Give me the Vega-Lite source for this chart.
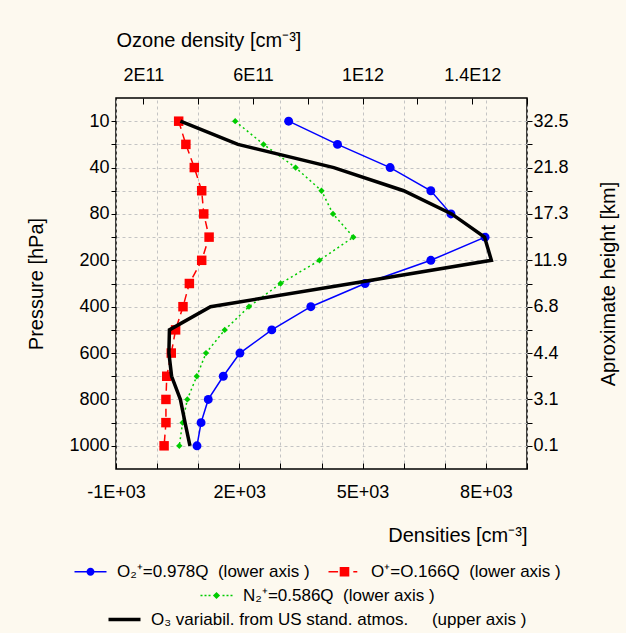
{
  "$schema": "https://vega.github.io/schema/vega-lite/v6.json",
  "width": 411,
  "height": 371,
  "autosize": {"type": "none"},
  "padding": {"left": 116, "top": 98, "right": 99, "bottom": 164},
  "background": "#fdf9ef",
  "data": {
    "values": [
      {"p": 10, "o2": 3200, "op": 525, "n2": 1900, "o3": 335000000000},
      {"p": 20, "o2": 4390, "op": 700, "n2": 2590, "o3": 545000000000},
      {"p": 40, "o2": 5670, "op": 905, "n2": 3370, "o3": 895000000000},
      {"p": 60, "o2": 6660, "op": 1085, "n2": 4000, "o3": 1150000000000},
      {"p": 80, "o2": 7150, "op": 1135, "n2": 4280, "o3": 1325000000000},
      {"p": 100, "o2": 7980, "op": 1265, "n2": 4775, "o3": 1445000000000},
      {"p": 200, "o2": 6660, "op": 1085, "n2": 3950, "o3": 1470000000000},
      {"p": 300, "o2": 5060, "op": 785, "n2": 3005, "o3": 960000000000},
      {"p": 400, "o2": 3740, "op": 630, "n2": 2235, "o3": 445000000000},
      {"p": 500, "o2": 2790, "op": 450, "n2": 1645, "o3": 295000000000},
      {"p": 600, "o2": 2015, "op": 345, "n2": 1190, "o3": 293000000000},
      {"p": 700, "o2": 1610, "op": 235, "n2": 965, "o3": 303000000000},
      {"p": 800, "o2": 1245, "op": 215, "n2": 735, "o3": 335000000000},
      {"p": 900, "o2": 1070, "op": 215, "n2": 620, "o3": 352000000000},
      {"p": 1000, "o2": 970, "op": 170, "n2": 540, "o3": 370000000000}
    ]
  },
  "config": {
    "view": {"fill": "white", "stroke": "black", "strokeWidth": 1.5},
    "font": "Liberation Sans",
    "axis": {
      "labelFont": "Liberation Sans", "titleFont": "Liberation Sans",
      "labelFontSize": 18, "titleFontSize": 20, "titleFontWeight": "normal",
      "labelColor": "black", "titleColor": "black", "tickColor": "black",
      "domain": false, "gridColor": "#c4c4c4", "gridDash": [3, 3], "gridWidth": 1,
      "labelOverlap": false, "labelBound": false, "labelFlush": false
    },
    "legend": {
      "orient": "bottom",
      "labelFont": "Liberation Sans", "labelFontSize": 17, "labelColor": "black", "labelLimit": 700,
      "padding": 0, "offset": 18, "symbolOpacity": 1,
      "layout": {"bottom": {"anchor": "middle", "direction": "vertical", "center": true, "margin": 7}}
    }
  },
  "layer": [
    {
      "mark": {"type": "line", "color": "#0000ff", "strokeWidth": 1.5, "point": {"filled": true, "size": 80, "color": "#0000ff", "opacity": 1}},
      "encoding": {
        "x": {"field": "o2", "type": "quantitative", "scale": {"domain": [-1000, 9000], "nice": false, "zero": false},
          "axis": {"orient": "bottom", "title": "Densities [cm⁻³]", "titleAnchor": "end", "values": [-1000, 0, 1000, 2000, 3000, 4000, 5000, 6000, 7000, 8000, 9000],
            "labelExpr": "datum.value == -1000 ? '-1E+03' : datum.value == 2000 ? '2E+03' : datum.value == 5000 ? '5E+03' : datum.value == 8000 ? '8E+03' : ''",
            "tickSize": -6, "labelPadding": 20, "grid": true, "titlePadding": 24}},
        "y": {"field": "p", "type": "ordinal", "scale": {"type": "point", "domain": [10, 20, 40, 60, 80, 100, 200, 300, 400, 500, 600, 700, 800, 900, 1000], "padding": 1},
          "axis": {"orient": "left", "title": "Pressure [hPa]", "labelExpr": "(datum.value == 20 || datum.value == 60 || datum.value == 100 || datum.value == 300 || datum.value == 500 || datum.value == 700 || datum.value == 900) ? '' : datum.label",
            "tickSize": 5, "labelPadding": 2, "grid": true, "titlePadding": 22}},
        "order": {"field": "p", "type": "quantitative"}
      }
    },
    {
      "mark": {"type": "line", "color": "#ff0000", "strokeWidth": 1.5, "strokeDash": [8, 5], "point": {"filled": true, "size": 90, "shape": "square", "color": "#ff0000", "opacity": 1}},
      "encoding": {
        "x": {"field": "op", "type": "quantitative", "scale": {"domain": [-1000, 9000], "nice": false, "zero": false}, "axis": null},
        "y": {"field": "p", "type": "ordinal", "scale": {"type": "point", "domain": [10, 20, 40, 60, 80, 100, 200, 300, 400, 500, 600, 700, 800, 900, 1000], "padding": 1}, "axis": null},
        "order": {"field": "p", "type": "quantitative"}
      }
    },
    {
      "mark": {"type": "line", "color": "#00cc00", "strokeWidth": 1.5, "strokeDash": [2, 3], "point": {"filled": true, "size": 40, "shape": "diamond", "color": "#00cc00", "opacity": 1}},
      "encoding": {
        "x": {"field": "n2", "type": "quantitative", "scale": {"domain": [-1000, 9000], "nice": false, "zero": false}, "axis": null},
        "y": {"field": "p", "type": "ordinal", "scale": {"type": "point", "domain": [10, 20, 40, 60, 80, 100, 200, 300, 400, 500, 600, 700, 800, 900, 1000], "padding": 1}, "axis": null},
        "order": {"field": "p", "type": "quantitative"}
      }
    },
    {
      "data": {"values": []},
      "mark": {"type": "point", "filled": true, "size": 64, "strokeWidth": 0, "opacity": 1},
      "encoding": {
        "color": {"field": "s", "type": "nominal",
          "scale": {"domain": ["O₂⁺=0.978Q\u00a0 (lower axis )", "O⁺=O.166Q\u00a0 (lower axis )"], "range": ["#0000ff", "#ff0000"]},
          "legend": {"title": null, "direction": "horizontal", "columnPadding": 18, "labelOffset": 18, "symbolSize": 64, "symbolStrokeWidth": 0}},
        "shape": {"field": "s", "type": "nominal",
          "scale": {"domain": ["O₂⁺=0.978Q\u00a0 (lower axis )", "O⁺=O.166Q\u00a0 (lower axis )"],
            "range": ["M-4,-0.19H4V0.19H-4Z M-1,0A1,1,0,1,1,1,0A1,1,0,1,1,-1,0Z", "M-4,-0.19H-1.6V0.19H-4Z M-1.2,-1.2H1.2V1.2H-1.2Z M2.2,-0.19H3.2V0.19H2.2Z"]},
          "legend": {"title": null, "direction": "horizontal", "columnPadding": 18, "labelOffset": 18, "symbolSize": 64, "symbolStrokeWidth": 0}}
      }
    },
    {
      "data": {"values": []},
      "mark": {"type": "point", "filled": true, "size": 64, "strokeWidth": 0, "color": "#00cc00", "opacity": 1,
        "shape": "M-4,-0.19H-3.5V0.19H-4Z M-3,-0.19H-2.5V0.19H-3Z M-2,-0.19H-1.5V0.19H-2Z M0,-0.9L0.9,0L0,0.9L-0.9,0Z M1.5,-0.19H2V0.19H1.5Z M2.5,-0.19H3V0.19H2.5Z M3.5,-0.19H4V0.19H3.5Z"},
      "encoding": {
        "strokeDash": {"field": "s", "type": "nominal", "scale": {"domain": ["N₂⁺=0.586Q\u00a0 (lower axis )"], "range": [[1, 0]]},
          "legend": {"title": null, "labelOffset": 18, "symbolSize": 64, "symbolStrokeWidth": 0, "symbolFillColor": "#00cc00",
            "symbolType": "M-4,-0.19H-3.5V0.19H-4Z M-3,-0.19H-2.5V0.19H-3Z M-2,-0.19H-1.5V0.19H-2Z M0,-0.9L0.9,0L0,0.9L-0.9,0Z M1.5,-0.19H2V0.19H1.5Z M2.5,-0.19H3V0.19H2.5Z M3.5,-0.19H4V0.19H3.5Z"}}
      }
    },
    {
      "data": {"values": []},
      "mark": {"type": "point", "filled": true, "strokeWidth": 0, "color": "black", "opacity": 1, "shape": "M-4,-0.44H4V0.44H-4Z"},
      "encoding": {
        "size": {"field": "s", "type": "nominal", "scale": {"domain": ["O₃ variabil. from US stand. atmos.\u00a0\u00a0\u00a0\u00a0 (upper axis )"], "range": [64, 64]},
          "legend": {"title": null, "labelOffset": 18, "symbolStrokeWidth": 0, "symbolFillColor": "black", "symbolOpacity": 1, "symbolType": "M-4,-0.44H4V0.44H-4Z"}}
      }
    },
    {
      "mark": {"type": "line", "color": "black", "strokeWidth": 3.5},
      "encoding": {
        "x": {"field": "o3", "type": "quantitative", "scale": {"domain": [100000000000, 1600000000000], "nice": false, "zero": false},
          "axis": {"orient": "top", "title": "Ozone density [cm⁻³]", "titleAnchor": "start",
            "values": [200000000000, 400000000000, 600000000000, 800000000000, 1000000000000, 1200000000000, 1400000000000, 1600000000000],
            "labelExpr": "datum.value == 200000000000 ? '2E11' : datum.value == 600000000000 ? '6E11' : datum.value == 1000000000000 ? '1E12' : datum.value == 1400000000000 ? '1.4E12' : ''",
            "tickSize": -6, "labelPadding": 20, "grid": false, "titlePadding": 16}},
        "y": {"field": "p", "type": "ordinal", "scale": {"type": "point", "domain": [10, 20, 40, 60, 80, 100, 200, 300, 400, 500, 600, 700, 800, 900, 1000], "padding": 1},
          "axis": {"orient": "right", "title": "Aproximate height [km]", "titleAngle": 270, "titleBaseline": "top",
            "labelExpr": "datum.value == 10 ? '32.5' : datum.value == 40 ? '21.8' : datum.value == 80 ? '17.3' : datum.value == 200 ? '11.9' : datum.value == 400 ? '6.8' : datum.value == 600 ? '4.4' : datum.value == 800 ? '3.1' : datum.value == 1000 ? '0.1' : ''",
            "tickSize": 5, "labelPadding": 1, "grid": false, "titlePadding": 30}},
        "order": {"field": "p", "type": "quantitative"}
      }
    }
  ],
  "resolve": {"scale": {"x": "independent", "y": "independent"}, "axis": {"x": "independent", "y": "independent"}}
}
